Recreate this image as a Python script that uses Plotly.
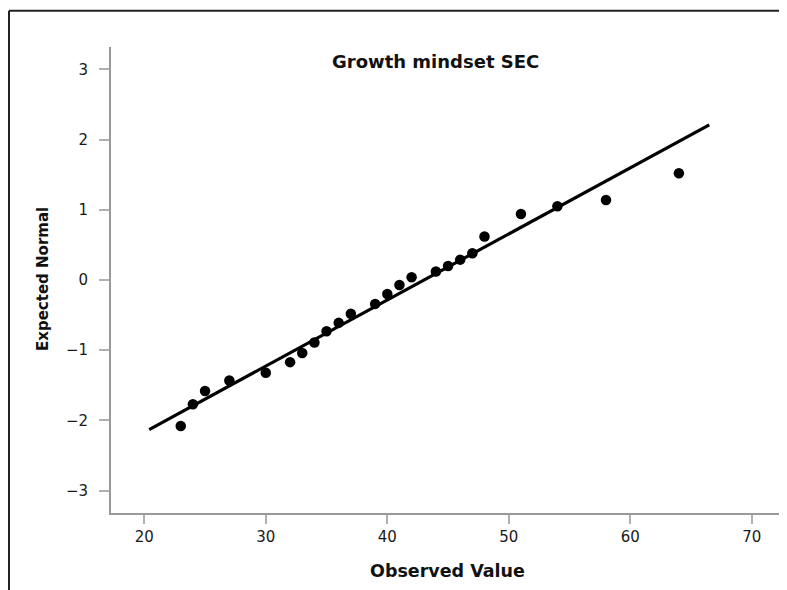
import plotly.graph_objects as go

# Data
observed = [23, 24, 25, 27, 30, 32, 33, 34, 35, 36, 37, 39, 40, 41, 42,
            44, 45, 46, 47, 48, 51, 54, 58, 64]
expected = [-2.08, -1.77, -1.58, -1.43, -1.32, -1.17, -1.04, -0.89, -0.73,
            -0.61, -0.48, -0.34, -0.20, -0.07, 0.04, 0.12, 0.20, 0.29, 0.38,
            0.62, 0.94, 1.05, 1.14, 1.52]
line_x = [20.4, 66.5]
line_y = [-2.13, 2.21]
x_ticks = [20, 30, 40, 50, 60, 70]
y_ticks = [-3, -2, -1, 0, 1, 2, 3]

# page body has an 8px default margin; work in page coordinates and shift
OFF = 8
W, H = 787 - OFF, 590 - OFF
L = 111 - OFF
T = 47 - OFF
R = W - (784 - OFF)
B = H - (513 - OFF)
pw = W - L - R
ph = H - T - B

def px(x):
    return (x - OFF - L) / pw

def py(y):
    return (H - B - (y - OFF)) / ph

font = "DejaVu Sans"
axis_col = "#9a9a9a"

fig = go.Figure()
fig.add_trace(go.Scatter(x=line_x, y=line_y, mode="lines",
                         line=dict(color="black", width=3.2),
                         hoverinfo="skip", showlegend=False))
fig.add_trace(go.Scatter(x=observed, y=expected, mode="markers",
                         marker=dict(color="black", size=10.5, line=dict(width=0)),
                         showlegend=False))

fig.update_layout(
    width=W, height=H,
    margin=dict(l=L, r=R, t=T, b=B, pad=0),
    paper_bgcolor="white", plot_bgcolor="white",
    font=dict(family=font, color="#222222"),
    xaxis=dict(range=[17.26, 72.65], tickvals=x_ticks, showgrid=False,
               zeroline=False, showline=True, linecolor=axis_col, linewidth=2,
               ticks="outside", ticklen=9, tickwidth=1.5, tickcolor="#b0b0b0",
               tickfont=dict(family=font, size=15, color="#1a1a1a")),
    yaxis=dict(range=[-3.318, 3.318], tickvals=y_ticks, showgrid=False,
               zeroline=False, showline=True, linecolor=axis_col, linewidth=2,
               ticks="outside", ticklen=10, tickwidth=1.5, tickcolor="#b0b0b0",
               tickfont=dict(family=font, size=15, color="#1a1a1a"),
               ticklabelstandoff=8),
    annotations=[
        dict(text="<b>Growth mindset SEC</b>", x=px(435.5), y=py(62),
             xref="paper", yref="paper", showarrow=False,
             xanchor="center", yanchor="middle",
             font=dict(family=font, size=18, color="#111111")),
        dict(text="<b>Observed Value</b>", x=px(447.5), y=py(571),
             xref="paper", yref="paper", showarrow=False,
             xanchor="center", yanchor="middle",
             font=dict(family=font, size=17.5, color="#111111")),
        dict(text="<b>Expected Normal</b>", x=px(43), y=py(279),
             xref="paper", yref="paper", showarrow=False, textangle=-90,
             xanchor="center", yanchor="middle",
             font=dict(family=font, size=15, color="#111111")),
    ],
    shapes=[
        dict(type="line", xref="paper", yref="paper",
             x0=px(9), x1=px(800), y0=py(10.7), y1=py(10.7),
             line=dict(color="#222222", width=2)),
        dict(type="line", xref="paper", yref="paper",
             x0=px(9), x1=px(9), y0=py(10.7), y1=py(600),
             line=dict(color="#222222", width=2)),
    ],
)

fig.write_html("out.html")
